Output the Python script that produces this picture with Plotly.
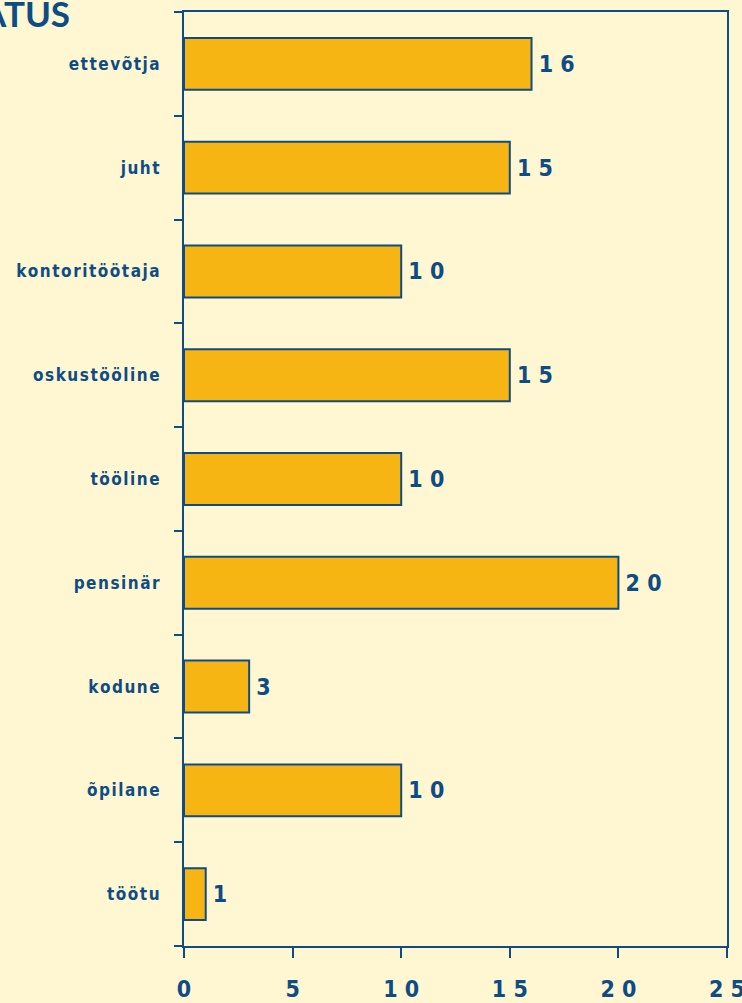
import plotly.graph_objects as go

categories = ["ettevõtja", "juht", "kontoritöötaja", "oskustööline", "tööline",
              "pensinär", "kodune", "õpilane", "töötu"]
values = [16, 15, 10, 15, 10, 20, 3, 10, 1]
x_ticks = [0, 5, 10, 15, 20, 25]

NAVY = "#0E4C85"
GOLD = "#F7B514"
BG = "#FFF7D2"
FONT = "Liberation Sans Narrow, DejaVu Sans Condensed, Arial Narrow, sans-serif"

def spaced(s, sep=" "):
    return sep.join(list(str(s)))

fig = go.Figure(go.Bar(
    x=values,
    y=categories,
    orientation="h",
    width=0.5,
    marker=dict(color=GOLD, line=dict(color=NAVY, width=2)),
    text=["\u2009" + spaced(v, " ") for v in values],
    textposition="outside",
    textfont=dict(family=FONT, size=23, color=NAVY, weight="bold"),
    cliponaxis=False,
))

fig.update_layout(
    width=742, height=1003,
    paper_bgcolor=BG, plot_bgcolor=BG,
    margin=dict(l=184, r=15, t=12, b=57, autoexpand=False),
    showlegend=False,
    bargap=0.5,
)

fig.update_xaxes(
    range=[0, 25],
    tickvals=x_ticks,
    ticktext=[spaced(t, " ") for t in x_ticks],
    ticks="outside", ticklen=10, tickwidth=2, tickcolor=NAVY,
    showline=True, linecolor=NAVY, linewidth=2, mirror=True,
    showgrid=False, zeroline=False, automargin=False,
    ticklabeloverflow="allow",
    tickfont=dict(family=FONT, size=23, color=NAVY, weight="bold"),
    ticklabelstandoff=11,
)

fig.update_yaxes(
    categoryorder="array", categoryarray=categories,
    autorange="reversed",
    tickson="boundaries",
    tickvals=categories,
    ticktext=[spaced(c, "\u200a") for c in categories],
    ticks="outside", ticklen=8, tickwidth=2, tickcolor=NAVY,
    showline=True, linecolor=NAVY, linewidth=2, mirror=True,
    showgrid=False, zeroline=False, automargin=False,
    tickfont=dict(family=FONT, size=17, color=NAVY, weight="bold"),
    ticklabelstandoff=19,
)

fig.add_annotation(
    text="<b>STAATUS</b>", xref="paper", yref="paper",
    x=(72 - 184) / 543, y=1 - (36 - 12) / 934, xanchor="right", yanchor="bottom",
    showarrow=False,
    font=dict(family="Lato", size=35, color=NAVY),
)

fig.write_html(
    "out.html",
    config={"displayModeBar": False},
    post_script="document.body.style.margin='0';document.body.style.background='%s';" % BG,
)
